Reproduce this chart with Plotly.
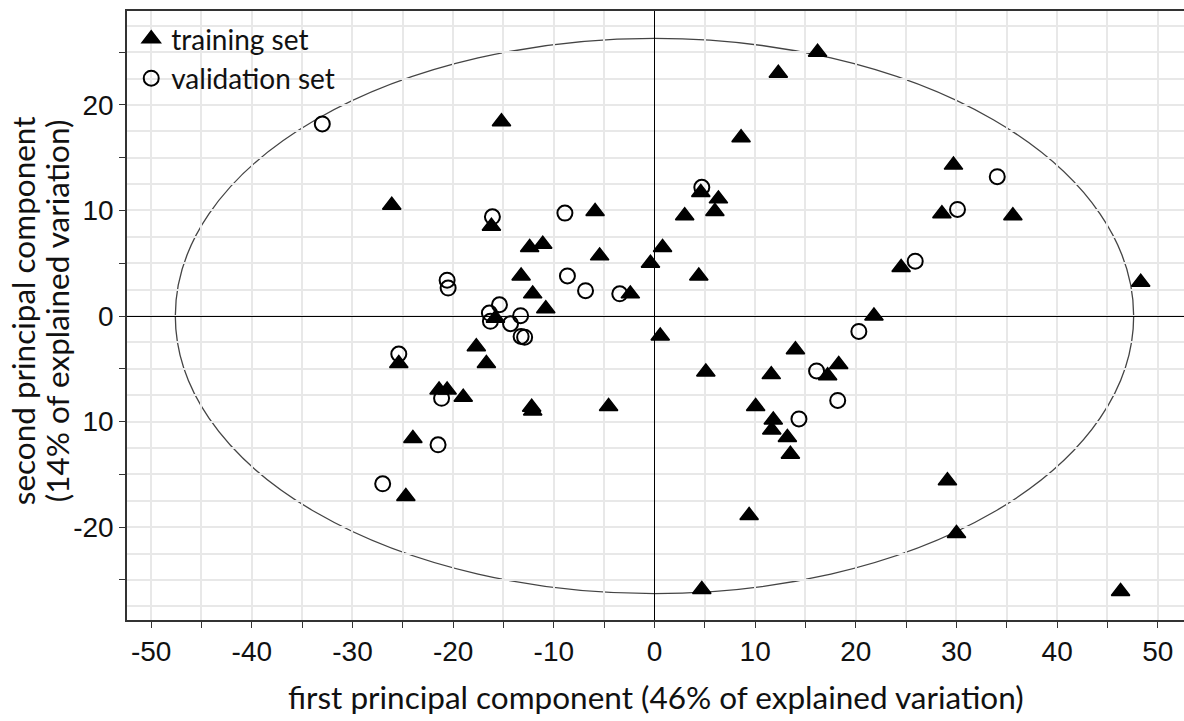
import plotly.graph_objects as go

# ---- data ----
train_x = [-26.1, -15.2, -16.2, -5.9, -12.4, -11.1, -5.45, -13.25, -12.1, -10.8,
           -2.4, -0.4, 0.8, 3.0, 4.6, 6.35, 6.0, 4.4, 8.6, 12.3,
           16.2, 29.7, 28.55, 35.6, 24.5, 48.3, 21.8, -15.8, 0.57, -17.7,
           -16.7, -25.4, -21.4, -20.6, -19.0, -24.0, -24.7, -12.2, -12.1, -4.56,
           5.1, 14.0, 11.6, 17.2, 18.3, 10.05, 11.8, 11.65, 13.2, 13.5,
           9.4, 4.7, 29.1, 30.0, 46.3]
train_y = [10.5, 18.4, 8.5, 9.9, 6.5, 6.8, 5.7, 3.8, 2.1, 0.7,
           2.1, 5.0, 6.5, 9.5, 11.7, 11.1, 9.9, 3.8, 16.9, 23.0,
           25.0, 14.3, 9.7, 9.5, 4.6, 3.2, 0.0, -0.2, -1.9, -2.9,
           -4.5, -4.5, -7.0, -7.0, -7.7, -11.6, -17.1, -8.65, -9.0, -8.56,
           -5.3, -3.2, -5.55, -5.65, -4.6, -8.56, -9.85, -10.8, -11.5, -13.1,
           -18.9, -25.9, -15.6, -20.6, -26.1]

valid_x = [-33.0, -20.6, -20.5, -16.1, -8.9, -8.65, -6.85, -3.45, 4.7, 34.05,
           30.1, 25.9, -15.4, -16.4, -16.3, -13.3, -14.3, -13.25, -12.9, -25.4,
           -21.15, -21.5, -27.0, 20.3, 16.1, 18.2, 14.35]
valid_y = [18.2, 3.4, 2.65, 9.4, 9.75, 3.8, 2.4, 2.1, 12.2, 13.2,
           10.1, 5.2, 1.07, 0.28, -0.5, 0.03, -0.73, -1.93, -2.0, -3.6,
           -7.8, -12.2, -15.9, -1.46, -5.2, -8.0, -9.75]

ellipse_rx = 47.6
ellipse_ry = 26.3

x_tickvals = list(range(-50, 51, 5))
x_ticktext = [str(v) if v % 10 == 0 else "" for v in x_tickvals]
y_tickvals = [-25, -20, -15, -10, -5, 0, 5, 10, 15, 20, 25]
y_ticktext = ["", "-20", "", "10", "", "0", "", "10", "", "20", ""]

series_names = ["training set", "validation set"]
x_title = "first principal component (46% of explained variation)"
y_title_lines = ["second principal component", "(14% of explained variation)"]

# ---- figure ----
fig = go.Figure()
fig.add_trace(go.Scatter(
    x=train_x, y=train_y, mode="markers", name=series_names[0],
    marker=dict(symbol="triangle-up", size=16, color="black",
                line=dict(color="black", width=1.5)),
))
fig.add_trace(go.Scatter(
    x=valid_x, y=valid_y, mode="markers", name=series_names[1],
    marker=dict(symbol="circle-open", size=15, color="black",
                line=dict(color="black", width=2)),
))

fig.add_shape(type="circle", xref="x", yref="y",
              x0=-ellipse_rx, x1=ellipse_rx, y0=-ellipse_ry, y1=ellipse_ry,
              line=dict(color="#444444", width=1.3), layer="below")

tick_font = dict(family="Liberation Sans, Arial, sans-serif", size=28, color="#111111")
title_font = dict(family="Lato, sans-serif", size=31.5, color="#111111")

fig.update_xaxes(
    range=[-52.4, 52.6], tickvals=x_tickvals, ticktext=x_ticktext,
    ticks="outside", ticklen=6, tickcolor="#333333", tickwidth=1.2,
    showgrid=True, gridcolor="#e8e8e8", gridwidth=1.5,
    zeroline=True, zerolinecolor="black", zerolinewidth=1.3,
    showline=True, linecolor="#333333", linewidth=1.5, mirror=True,
    tickfont=tick_font, automargin=False,
)
fig.update_yaxes(
    range=[-28.8, 28.9], tickvals=y_tickvals, ticktext=y_ticktext,
    ticks="outside", ticklen=6, tickcolor="#333333", tickwidth=1.2,
    showgrid=True, gridcolor="#e8e8e8", gridwidth=1.5,
    minor=dict(dtick=2.5, showgrid=True, gridcolor="#e8e8e8", gridwidth=1.5, ticks=""),
    zeroline=True, zerolinecolor="black", zerolinewidth=1.3,
    showline=True, linecolor="#333333", linewidth=1.5, mirror=True,
    tickfont=tick_font, automargin=False,
)

# axis titles as annotations for precise placement
fig.add_annotation(text=x_title, xref="paper", yref="paper", x=0.5, y=0,
                   xanchor="center", yanchor="middle", yshift=-77,
                   showarrow=False, font=title_font)
for txt, shift in zip(y_title_lines, [-104, -70]):
    fig.add_annotation(text=txt, xref="paper", yref="paper", x=0, y=0.507,
                       xanchor="center", yanchor="middle", xshift=shift,
                       textangle=-90, showarrow=False, font=title_font)

fig.update_layout(
    width=1184, height=721,
    margin=dict(l=127, r=0, t=11, b=101),
    paper_bgcolor="white", plot_bgcolor="white",
    showlegend=True,
    legend=dict(x=0.0040, y=0.995, xanchor="left", yanchor="top",
                bgcolor="rgba(255,255,255,0)", borderwidth=0,
                font=dict(family="Lato, sans-serif", size=28, color="#111111"),
                itemwidth=30, tracegroupgap=0),
)

fig.write_html("out.html",
               config={"displayModeBar": False},
               post_script="document.body.style.margin='0px';document.body.style.overflow='hidden';")
